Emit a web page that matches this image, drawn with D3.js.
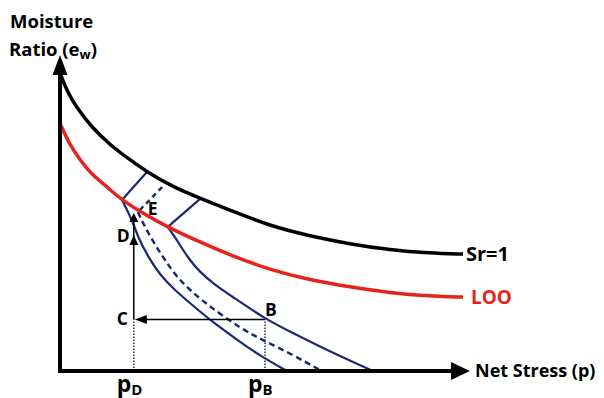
<!DOCTYPE html>
<html>
<head>
<meta charset="utf-8">
<script src="https://cdn.jsdelivr.net/npm/d3@7"></script>
<style>
  body { margin: 0; background: #fff; }
  text { font-family: "Open Sans", Lato, sans-serif; font-weight: bold; }
</style>
</head>
<body>
<div id="chart"></div>
<script>
// schematic values, arbitrary units (net stress 0-100, moisture ratio 0-100)
const saturationLine = [
  [0.2, 93.7], [1.2, 90.2], [2.9, 85.8], [4.9, 82.0], [7.3, 77.8], [12.2, 71.5],
  [17.1, 66.8], [21.2, 63.0], [27.6, 58.2], [34.1, 54.7], [41.5, 50.9], [51.2, 45.9],
  [61.0, 42.7], [70.7, 40.2], [80.5, 38.3], [90.2, 37.3], [98.3, 37.0]
];
const looLine = [
  [0.2, 77.8], [2.4, 71.5], [4.9, 66.8], [7.3, 62.7], [11.5, 58.2], [15.1, 54.1],
  [20.2, 50.0], [26.1, 45.6], [34.1, 40.8], [41.5, 36.7], [51.2, 32.0], [61.0, 28.8],
  [70.7, 26.6], [80.5, 24.7], [90.2, 23.7], [98.3, 23.4]
];
const compressionLeft = [
  [15.1, 54.1], [17.6, 47.8], [19.0, 42.4], [21.5, 36.1], [24.4, 30.4], [28.0, 25.6],
  [31.7, 21.5], [36.6, 16.1], [43.9, 9.2], [49.3, 4.4], [55.4, 0]
];
const compressionRight = [
  [26.3, 45.6], [28.5, 41.5], [31.2, 35.8], [34.1, 31.3], [37.8, 27.2], [42.2, 23.4],
  [50.0, 16.5], [56.8, 12.0], [65.1, 6.6], [76.3, 0]
];
const compressionMidTie = [[24.9, 58.2], [19.0, 50.3]];
const compressionMid = [
  [19.0, 50.3], [20.7, 45.6], [23.2, 39.9], [25.6, 35.1], [28.5, 29.7], [32.2, 25.0],
  [36.6, 20.3], [44.6, 13.0], [49.5, 9.8], [56.8, 5.1], [63.4, 0.3]
];
const tieLines = [
  [[15.1, 54.1], [21.2, 63.0]],
  [[26.3, 45.6], [34.1, 54.4]]
];
const pD = 18.0;
const pB = 50.0;
const eC = 16.3;
const eD = 43.0;
const eE = 50.0;

const width = 604;
const height = 398;
const red = "#e4241b";
const navy = "#1c2873";

const x = d3.scaleLinear().domain([0, 100]).range([60, 470]);
const y = d3.scaleLinear().domain([0, 100]).range([371, 55]);

const svg = d3.select("#chart").append("svg")
  .attr("width", width)
  .attr("height", height);

const line = d3.line()
  .x(d => x(d[0]))
  .y(d => y(d[1]))
  .curve(d3.curveBasis);
const straight = d3.line().x(d => x(d[0])).y(d => y(d[1]));

// blue compression curves
svg.append("path").attr("d", line(compressionLeft))
  .attr("fill", "none").attr("stroke", navy).attr("stroke-width", 2.2);
svg.append("path").attr("d", line(compressionRight))
  .attr("fill", "none").attr("stroke", navy).attr("stroke-width", 2.2);
svg.append("path").attr("d", straight(compressionMidTie))
  .attr("fill", "none").attr("stroke", navy).attr("stroke-width", 2.5)
  .attr("stroke-dasharray", "5,4");
svg.append("path").attr("d", line(compressionMid))
  .attr("fill", "none").attr("stroke", navy).attr("stroke-width", 2.5)
  .attr("stroke-dasharray", "6,4");
tieLines.forEach(t => {
  svg.append("path").attr("d", straight(t))
    .attr("fill", "none").attr("stroke", navy).attr("stroke-width", 2.2);
});

// Sr=1 and LOO
svg.append("path").attr("d", line(saturationLine))
  .attr("fill", "none").attr("stroke", "#000").attr("stroke-width", 3.5);
svg.append("path").attr("d", line(looLine))
  .attr("fill", "none").attr("stroke", red).attr("stroke-width", 3.5);

// stress path B -> C -> D -> E
svg.append("line")
  .attr("x1", x(pD)).attr("x2", x(pD)).attr("y1", y(0)).attr("y2", y(eC))
  .attr("stroke", "#333").attr("stroke-width", 1.5).attr("stroke-dasharray", "1.5,1.5");
svg.append("line")
  .attr("x1", x(pB)).attr("x2", x(pB)).attr("y1", y(0)).attr("y2", y(eC))
  .attr("stroke", "#333").attr("stroke-width", 1.5).attr("stroke-dasharray", "1.5,1.5");
svg.append("line")
  .attr("x1", x(pB)).attr("x2", x(pD) + 10).attr("y1", y(eC)).attr("y2", y(eC))
  .attr("stroke", "#000").attr("stroke-width", 1.5);
svg.append("line")
  .attr("x1", x(pD)).attr("x2", x(pD)).attr("y1", y(eC)).attr("y2", y(eE) + 6)
  .attr("stroke", "#000").attr("stroke-width", 1.5);

function arrowHead(tx, ty, dir, len, half) {
  let pts;
  if (dir === "up") pts = [[tx, ty], [tx - half, ty + len], [tx + half, ty + len]];
  else if (dir === "left") pts = [[tx, ty], [tx + len, ty - half], [tx + len, ty + half]];
  else pts = [[tx, ty], [tx - len, ty - half], [tx - len, ty + half]];
  svg.append("path").attr("d", "M" + pts.join("L") + "Z").attr("fill", "#000");
}
arrowHead(x(pD) + 1, y(eC), "left", 12, 4.5);
arrowHead(x(pD), y(eD), "up", 10, 4.5);
arrowHead(x(pD), y(eE), "up", 9, 4.5);

// axes
svg.append("line")
  .attr("x1", x(0)).attr("x2", x(0)).attr("y1", y(0) + 2).attr("y2", y(100) + 18)
  .attr("stroke", "#000").attr("stroke-width", 4);
svg.append("line")
  .attr("x1", x(0) - 2).attr("x2", x(100) - 16).attr("y1", y(0)).attr("y2", y(0))
  .attr("stroke", "#000").attr("stroke-width", 4);
arrowHead(x(0), y(100), "up", 20, 7.5);
arrowHead(x(100), y(0), "right", 19, 9);

// text
svg.append("text").attr("x", 10).attr("y", 28).attr("font-size", 18.5).text("Moisture");
const yLab = svg.append("text").attr("x", 9).attr("y", 56).attr("font-size", 18.5);
yLab.append("tspan").text("Ratio (e");
yLab.append("tspan").attr("font-size", 13).attr("dy", 3).text("w");
yLab.append("tspan").attr("dy", -3).text(")");

svg.append("text").attr("x", x(100) + 5).attr("y", y(0) + 6).attr("font-size", 18)
  .text("Net Stress (p)");
svg.append("text").attr("x", x(98.3) + 3).attr("y", y(37.0) + 7).attr("font-size", 20)
  .text("Sr=1");
svg.append("text").attr("x", x(98.3) + 8).attr("y", y(23.4) + 7).attr("font-size", 19)
  .attr("fill", red).text("LOO");

[[pD, "D"], [pB, "B"]].forEach(([p, sub]) => {
  const t = svg.append("text").attr("x", x(p) - 17).attr("y", 392).attr("font-size", 23);
  t.append("tspan").text("p");
  t.append("tspan").attr("font-size", 15).attr("dy", 3).text(sub);
});

svg.append("text").attr("x", x(pD) - 17).attr("y", y(eC) + 6).attr("font-size", 17.5).text("C");
svg.append("text").attr("x", x(pB)).attr("y", y(eC) - 3).attr("font-size", 17.5).text("B");
svg.append("text").attr("x", x(pD) - 17).attr("y", y(eD) + 7).attr("font-size", 17.5).text("D");
svg.append("text").attr("x", x(pD) + 14).attr("y", y(eE) + 2).attr("font-size", 17.5).text("E");
</script>
</body>
</html>
